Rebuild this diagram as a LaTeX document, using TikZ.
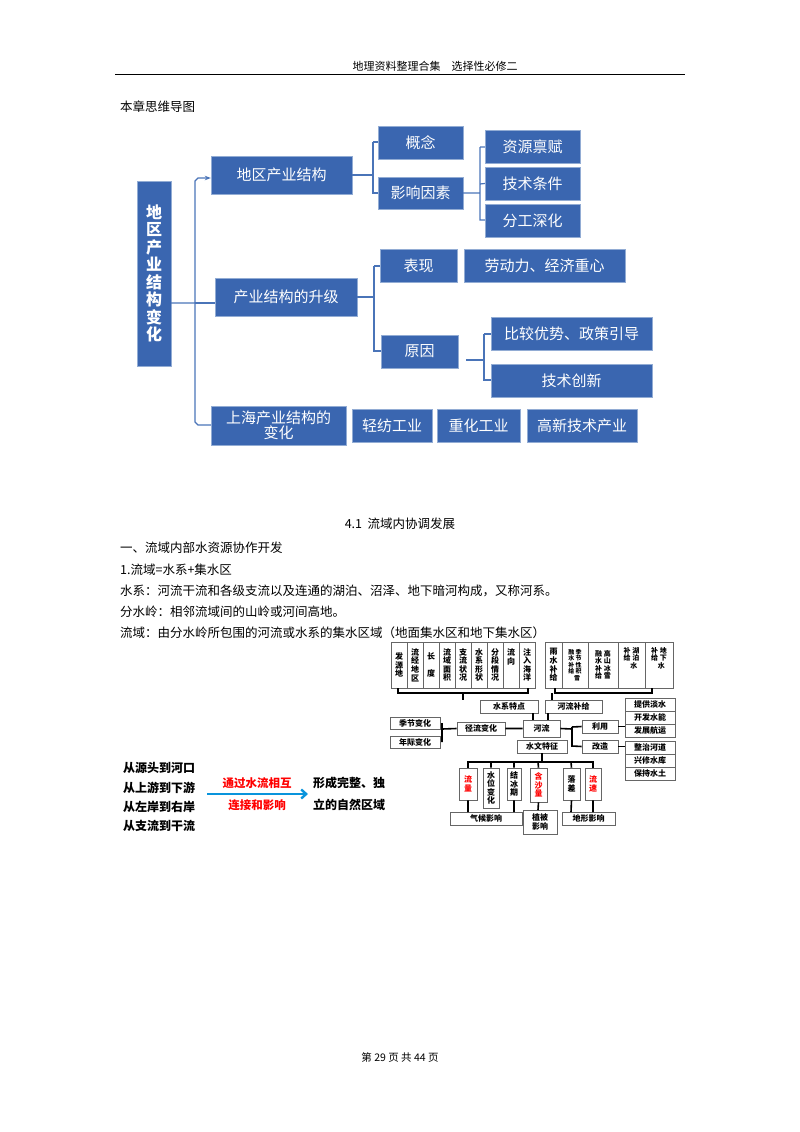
\documentclass[tikz,border=0pt]{standalone}
\usepackage{fontspec}
\setmainfont{Noto Sans CJK SC}
\usetikzlibrary{arrows.meta}
\definecolor{mblue}{HTML}{3A66B0}
\definecolor{mline}{HTML}{4A74B8}
\newcommand\mb[6][mb]{\node[#1,minimum width={#4pt-#2pt},minimum height={#5pt-#3pt}] at ({(#2+#4)/2},{(#3+#5)/2}) {#6};}
\newcommand\nb[7][mb]{\node[#1,minimum width={#5pt-#3pt},minimum height={#6pt-#4pt}] (#2) at ({(#3+#5)/2},{(#4+#6)/2}) {#7};}
\begin{document}
\begin{tikzpicture}[x=1pt,y=-1pt,
 mb/.style={draw=mline!60,fill=mblue,text=white,inner sep=1pt,font=\fontsize{15}{16}\selectfont,align=center},
 sb/.style={draw=black!60,fill=white,inner sep=0.5pt,font=\bfseries\fontsize{8}{8.6}\selectfont,align=center,line width=0.6pt},
 rb/.style={sb,text=red},
 ml/.style={draw=mline,line width=1.2pt},
 bl/.style={draw=black,line width=1.6pt},
 tx/.style={anchor=west,inner sep=0,font=\fontsize{12.5}{14}\selectfont}]
\useasboundingbox (0,0) rectangle (800,1132);
% header
\node[font=\fontsize{11}{12}\selectfont] at (435,66) {地理资料整理合集\quad 选择性必修二};
\draw[line width=0.6pt] (115,74) -- (685,74);
\node[tx] at (120,107) {本章思维导图};
% mind map
\nb[mb,font=\bfseries\fontsize{16}{17.5}\selectfont]{root}{137}{181}{171}{366}{地\\区\\产\\业\\结\\构\\变\\化}
\nb{a}{211}{156}{352}{194}{地区产业结构}
\nb{a1}{378}{126}{463}{159}{概念}
\nb{a2}{378}{177}{463}{209}{影响因素}
\nb{a21}{485}{130}{580}{163}{资源禀赋}
\nb{a22}{485}{167}{580}{200}{技术条件}
\nb{a23}{485}{204}{580}{237}{分工深化}
\nb{b}{215}{278}{357}{316}{产业结构的升级}
\nb{b1}{380}{249}{457}{282}{表现}
\nb{b11}{464}{249}{625}{282}{劳动力、经济重心}
\nb{b2}{381}{335}{458}{368}{原因}
\nb{b21}{491}{317}{652}{350}{比较优势、政策引导}
\nb{b22}{491}{364}{652}{397}{技术创新}
\nb[mb,font=\fontsize{15}{15}\selectfont]{c}{211}{406}{346}{445}{上海产业结构的\\变化}
\nb{c1}{352}{409}{432}{442}{轻纺工业}
\nb{c2}{437}{409}{520}{442}{重化工业}
\nb{c3}{527}{409}{637}{442}{高新技术产业}
\draw[ml,-{Stealth[length=6pt]}] (root.east|-0,303) -- (195,303) -- (195,181) -- (198,178) -- (a.west|-0,178);
\draw[ml] (195,303) -- (195,422) -- (198,425) -- (c.west|-0,425);
\draw[ml] (195,303) -- (b.west|-0,303);
\draw[ml] (a.east) -- (373,175) (373,142) -- (a1.west|-0,142) (373,142) -- (373,193) -- (a2.west|-0,193);
\draw[ml] (a2.east) -- (480,193) (480,147) -- (a21.west|-0,147) (480,147) -- (480,220) -- (a23.west|-0,220) (a22.west) -- (480,184);
\draw[ml] (b.east) -- (374,297) (374,266) -- (b1.west|-0,266) (374,266) -- (374,351) -- (b2.west|-0,351);
\draw[ml] (466,360) -- (484,360) (484,334) -- (b21.west|-0,334) (484,334) -- (484,380) -- (b22.west|-0,380);
% section text
\node[font=\fontsize{12.5}{14}\selectfont] at (400,524) {4.1\ \ 流域内协调发展};
\node[tx] at (120,548) {一、流域内部水资源协作开发};
\node[tx] at (120,570) {1.流域=水系+集水区};
\node[tx] at (120,591) {水系：河流干流和各级支流以及连通的湖泊、沼泽、地下暗河构成，又称河系。};
\node[tx] at (120,612) {分水岭：相邻流域间的山岭或河间高地。};
\node[tx] at (120,633) {流域：由分水岭所包围的河流或水系的集水区域（地面集水区和地下集水区）};
% left text
\begin{scope}[every node/.style={anchor=west,inner sep=0,font=\bfseries\fontsize{12}{13}\selectfont}]
\node at (123,768) {从源头到河口};
\node at (123,788) {从上游到下游};
\node at (123,807) {从左岸到右岸};
\node at (123,826) {从支流到干流};
\node at (313,783) {形成完整、独};
\node at (313,805) {立的自然区域};
\end{scope}
\node[font=\bfseries\fontsize{11.5}{12}\selectfont,text=red] at (257,783) {通过水流相互};
\node[font=\bfseries\fontsize{11.5}{12}\selectfont,text=red] at (257,805) {连接和影响};
\coordinate (ar1) at (207,794); \coordinate (ar2) at (308,794);
\draw[cyan!80!blue,line width=2.4pt,-{Straight Barb[length=5pt,width=9pt]}] (ar1) -- (ar2);
% river diagram top row
\mb[sb]{391}{642}{407}{688}{发\\源\\地}
\mb[sb]{407}{642}{423}{688}{流\\经\\地\\区}
\mb[sb]{423}{642}{439}{688}{长\\ \\度}
\mb[sb]{439}{642}{455}{688}{流\\域\\面\\积}
\mb[sb]{455}{642}{471}{688}{支\\流\\状\\况}
\mb[sb]{471}{642}{487}{688}{水\\系\\形\\状}
\mb[sb]{487}{642}{503}{688}{分\\段\\情\\况}
\mb[sb]{503}{642}{519}{688}{流\\向\\ \\ }
\mb[sb]{519}{642}{535}{688}{注\\入\\海\\洋}
\mb[sb]{545}{642}{562}{688}{雨\\水\\补\\给}
\mb[sb,font=\bfseries\fontsize{6}{6.5}\selectfont]{562}{642}{588}{688}{融\ 季\\水\ 节\\补\ 性\\给\ 积\\\ \ \ 雪}
\mb[sb,font=\bfseries\fontsize{7}{7.5}\selectfont]{588}{642}{618}{688}{融\ 高\\水\ 山\\补\ 冰\\给\ 雪}
\mb[sb,font=\bfseries\fontsize{7}{7.5}\selectfont]{618}{642}{645}{688}{补\ 湖\\给\ 泊\\\ \ \ 水\\ \\ }
\mb[sb,font=\bfseries\fontsize{7}{7.5}\selectfont]{645}{642}{673}{688}{补\ 地\\给\ 下\\\ \ \ 水\\ \\ }
\draw[bl] (398,688) -- (398,693) -- (528,693) -- (528,688) (463,693) -- (463,700);
\draw[bl] (555,688) -- (555,693) -- (652,693) -- (652,688) (552,693) -- (552,700);
\nb[sb]{sx}{480}{700}{538}{713}{水系特点}
\nb[sb]{bj}{545}{700}{602}{713}{河流补给}
\nb[sb]{hl}{523}{720}{560}{737}{河流}
\nb[sb]{jl}{457}{722}{505}{735}{径流变化}
\nb[sb]{jj}{390}{717}{440}{729}{季节变化}
\nb[sb]{nj}{390}{736}{440}{748}{年际变化}
\nb[sb]{ly}{582}{720}{618}{733}{利用}
\nb[sb]{gz}{582}{740}{618}{753}{改造}
\nb[sb]{t1}{625}{698}{675}{711}{提供淡水}
\nb[sb]{t2}{625}{711}{675}{724}{开发水能}
\nb[sb]{t3}{625}{724}{675}{737}{发展航运}
\nb[sb]{t4}{625}{741}{675}{754}{整治河道}
\nb[sb]{t5}{625}{754}{675}{767}{兴修水库}
\nb[sb]{t6}{625}{767}{675}{780}{保持水土}
\nb[sb]{sw}{517}{740}{567}{753}{水文特征}
\draw[bl] (533,713) -- (533,720) (548,713) -- (548,720);
\draw[bl] (jl.east) -- (hl.west) (442,723) -- (442,742) (442,729) -- (jl.west);
\draw[bl] (hl.east) -- (572,729) (572,727) -- (ly.west) (572,727) -- (572,746) -- (gz.west);
\draw[bl] (ly.east) -- (t2.west|-ly.east) (gz.east) -- (t4.west|-gz.east);
\draw[bl] (sw.south) -- (542,762) (468,769) -- (468,762) -- (593,762) -- (593,769);
\nb[rb]{q1}{459}{768}{477}{800}{流\\量}
\nb[sb]{q2}{483}{768}{499}{808}{水\\位\\变\\化}
\nb[sb]{q3}{507}{768}{521}{800}{结\\冰\\期}
\nb[rb]{q4}{530}{768}{547}{802}{含\\沙\\量}
\nb[sb]{q5}{563}{768}{580}{800}{落\\差}
\nb[rb]{q6}{585}{768}{601}{800}{流\\速}
\draw[bl] (491,762) -- (q2.north) (514,762) -- (q3.north) (538,762) -- (q4.north) (571,762) -- (q5.north);
\nb[sb]{e1}{450}{812}{522}{825}{气候影响}
\nb[sb]{e2}{523}{810}{557}{834}{植被\\影响}
\nb[sb]{e3}{562}{812}{615}{825}{地形影响}
\draw[bl] (q1.south) -- (468,812) (q3.south) -- (514,812) (q4.south) -- (538,810) (q5.south) -- (571,812) (q6.south) -- (593,812);
% footer
\node[font=\fontsize{10.5}{12}\selectfont] at (400,1057) {第 29 页 共 44 页};
\end{tikzpicture}
\end{document}
